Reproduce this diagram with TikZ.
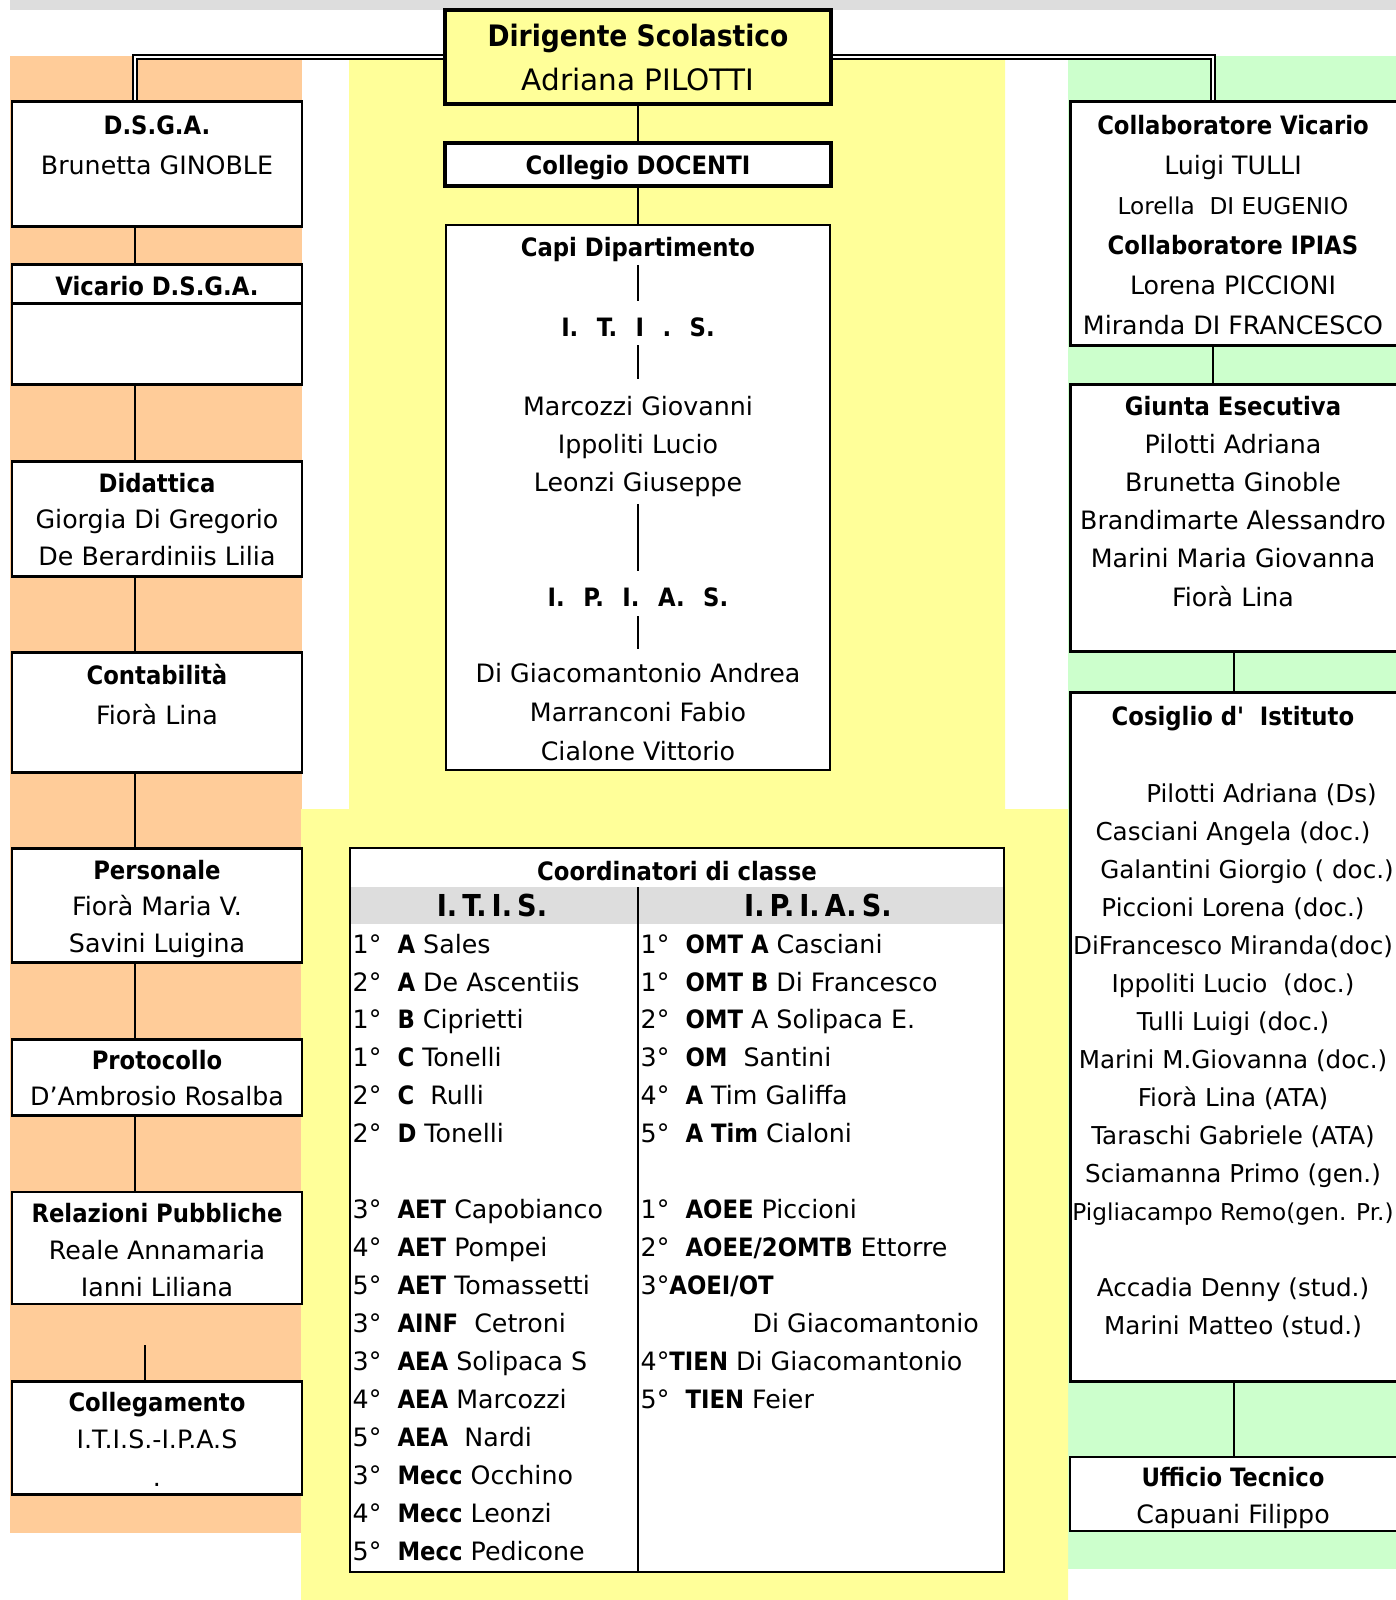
\documentclass[tikz,border=0pt]{standalone}
\usepackage{fontspec}
\setmainfont{DejaVu Sans}[BoldFont={DejaVu Sans Condensed Bold}]
\usetikzlibrary{positioning, fit, calc}

\definecolor{peach}{HTML}{FFCC99}
\definecolor{lemon}{HTML}{FFFF99}
\definecolor{mint}{HTML}{CCFFCC}
\definecolor{band}{HTML}{DDDDDD}

% stacked lines, baseline on the first one
\newcommand{\boxlines}[1]{\begin{tabular}[t]{@{}c@{}}#1\end{tabular}}
\newcommand{\tablines}[1]{\begin{tabular}[t]{@{}l@{}}#1\end{tabular}}
\newcommand{\wgap}{\hspace{3pt}}

\begin{document}
\begin{tikzpicture}[x=0.1mm, y=-0.1mm,
    box/.style={draw, line width=0.85pt, fill=white, inner sep=0pt},
    thinbox/.style={box, line width=0.5pt},
    txt/.style={font=\fontsize{7.2}{#1}\selectfont, anchor=base, inner sep=0pt},
    txt/.default=10.9,
    rowtxt/.style={font=\fontsize{7.2}{10.81}\selectfont, anchor=base west, inner sep=0pt},
    link/.style={line width=0.8pt},
    dbl/.style={double, double distance=0.8pt, line width=0.4pt},
    inlink/.style={line width=0.7pt}]

    \useasboundingbox (0,0) rectangle (1396,1600);

    % Background panels
    \fill[band] (10,0) rectangle (1396,10);
    \fill[peach] (10,56) rectangle (302,1533);
    \fill[mint] (1068,56) rectangle (1396,1569);
    \fill[lemon] (349,56) -- (1005,56) -- (1005,809) -- (1068,809) -- (1068,1600)
        -- (301,1600) -- (301,809) -- (349,809) -- cycle;

    % Spines
    \coordinate (lx) at (135,0);
    \coordinate (lstub) at (145,1345);
    \coordinate (rx1) at (1213,0);
    \coordinate (rx2) at (1234,0);

    % Centre boxes
    \node[box, fill=lemon, line width=1pt, fit={(445,10) (831,104)}] (dir) {};
    \node[box, line width=1.4pt, fit={(445,143) (831,186)}] (coll) {};
    \node[thinbox, fit={(446,225) (830,770)}] (capi) {};

    \node[txt=12.8, font=\fontsize{8.4}{12.8}\selectfont] (dirT) at (638,46) {\boxlines{\textbf{Dirigente Scolastico}\\Adriana PILOTTI}};
    \node[txt] (collT) at (638,174) {\textbf{Collegio DOCENTI}};

    % Capi Dipartimento
    \node[txt] (capiT) at (638,256) {\textbf{Capi Dipartimento}};
    \node[txt] (itisT) at (638,336) {\textbf{I.\wgap{} T.\wgap{} I\wgap{} .\wgap{} S.}};
    \node[txt=10.9] (itisN) at (638,415) {\boxlines{Marcozzi Giovanni\\Ippoliti Lucio\\Leonzi Giuseppe}};
    \node[txt] (ipiasT) at (638,606) {\textbf{I.\wgap{} P.\wgap{} I.\wgap{} A.\wgap{} S.}};
    \node[txt=11.2] (ipiasN) at (638,682) {\boxlines{Di Giacomantonio Andrea\\Marranconi Fabio\\Cialone Vittorio}};
    \draw[inlink, shorten <=0.3mm, shorten >=1.6mm] (capiT.south) -- (itisT.north);
    \draw[inlink, shorten <=0.8mm, shorten >=0.8mm] (itisT.south) -- (itisN.north);
    \draw[inlink, shorten >=1.6mm] (itisN.south) -- (ipiasT.north);
    \draw[inlink, shorten <=0.9mm, shorten >=0.5mm] (ipiasT.south) -- (ipiasN.north);

    % Coordinatori di classe
    \fill[white] (350,848) rectangle (1004,1572);
    \fill[band] (350,887) rectangle (1004,924);
    \node[box, fill=none, line width=0.7pt, fit={(350,848) (1004,1572)}] (tab) {};
    \coordinate (tabmid) at (638,887);
    \draw[line width=0.7pt] (tabmid) -- (tabmid |- tab.south);
    \node[txt] (tabT) at (677,880) {\textbf{Coordinatori di classe}};
    \node[txt, font=\fontsize{8.6}{10.9}\selectfont] (itisH) at (492,916) {\textbf{I.\,T.\,I.\,S.}};
    \node[txt, font=\fontsize{8.6}{10.9}\selectfont] (ipiasH) at (818,916) {\textbf{I.\,P.\,I.\,A.\,S.}};
    \node[rowtxt] (itisRows) at (352,953) {\tablines{%
        1°~~\textbf{A}~Sales\\
        2°~~\textbf{A} De Ascentiis\\
        1°~~\textbf{B} Ciprietti\\
        1°~~\textbf{C} Tonelli\\
        2°~~\textbf{C}~~Rulli\\
        2°~~\textbf{D} Tonelli\\[10.81pt]
        3°~~\textbf{AET} Capobianco\\
        4°~~\textbf{AET} Pompei\\
        5°~~\textbf{AET} Tomassetti\\
        3°~~\textbf{AINF}~~Cetroni\\
        3°~~\textbf{AEA} Solipaca S\\
        4°~~\textbf{AEA} Marcozzi\\
        5°~~\textbf{AEA}~~Nardi\\
        3°~~\textbf{Mecc} Occhino\\
        4°~~\textbf{Mecc} Leonzi\\
        5°~~\textbf{Mecc} Pedicone}};
    \node[rowtxt] (ipiasRows) at (640,953) {\tablines{%
        1°~~\textbf{OMT A} Casciani\\
        1°~~\textbf{OMT B} Di Francesco\\
        2°~~\textbf{OMT} A Solipaca E.\\
        3°~~\textbf{OM}~~Santini\\
        4°~~\textbf{A} Tim Galiffa\\
        5°~~\textbf{A Tim} Cialoni\\[10.81pt]
        1°~~\textbf{AOEE} Piccioni\\
        2°~~\textbf{AOEE/2OMTB} Ettorre\\
        3°\textbf{AOEI/OT}\\
        \hspace*{11.2mm}Di Giacomantonio\\
        4°\textbf{TIEN} Di Giacomantonio\\
        5°~~\textbf{TIEN} Feier}};

    % Left column
    \node[box, fit={(12,101) (302,226)}] (dsga) {};
    \node[box, fit={(12,264) (302,384)}] (vic) {};
    \node[box, fit={(12,461) (302,576)}] (did) {};
    \node[box, fit={(12,652) (302,772)}] (cont) {};
    \node[box, fit={(12,848) (302,962)}] (pers) {};
    \node[box, fit={(12,1039) (302,1115)}] (prot) {};
    \node[thinbox, fit={(12,1192) (302,1304)}] (rel) {};
    \node[box, fit={(12,1381) (302,1494)}] (colg) {};
    \coordinate (vicsep) at (0,303);
    \draw[line width=0.85pt] (vic.west |- vicsep) -- (vic.east |- vicsep);

    \node[txt=11.6] (dsgaT) at (157,134) {\boxlines{\textbf{D.S.G.A.}\\Brunetta GINOBLE}};
    \node[txt] (vicT) at (157,295) {\textbf{Vicario D.S.G.A.}};
    \node[txt=10.45] (didT) at (157,492) {\boxlines{\textbf{Didattica}\\Giorgia Di Gregorio\\De Berardiniis Lilia}};
    \node[txt=11.6] (contT) at (157,684) {\boxlines{\textbf{Contabilità}\\Fiorà Lina}};
    \node[txt=10.45] (persT) at (157,879) {\boxlines{\textbf{Personale}\\Fiorà Maria V.\\Savini Luigina}};
    \node[txt=10.45] (protT) at (157,1069) {\boxlines{\textbf{Protocollo}\\D’Ambrosio Rosalba}};
    \node[txt=10.6] (relT) at (157,1222) {\boxlines{\textbf{Relazioni Pubbliche}\\Reale Annamaria\\Ianni Liliana}};
    \node[txt=10.75] (colgT) at (157,1411) {\boxlines{\textbf{Collegamento}\\I.T.I.S.-I.P.A.S\\.}};

    % Right column
    \node[box, fit={(1070,101) (1410,345)}] (collab) {};
    \node[box, fit={(1070,384) (1410,651)}] (giunta) {};
    \node[box, fit={(1070,692) (1410,1381)}] (cons) {};
    \node[thinbox, fit={(1070,1457) (1410,1531)}] (uff) {};

    \node[txt=11.43] (collabT) at (1233,134) {\boxlines{\textbf{Collaboratore Vicario}\\Luigi TULLI\\
        {\fontsize{6.6}{11.43}\selectfont Lorella~~DI EUGENIO}\\\textbf{Collaboratore IPIAS}\\
        Lorena PICCIONI\\Miranda DI FRANCESCO}};
    \node[txt=10.87] (giuntaT) at (1233,415) {\boxlines{\textbf{Giunta Esecutiva}\\Pilotti Adriana\\Brunetta Ginoble\\
        Brandimarte Alessandro\\Marini Maria Giovanna\\Fiorà Lina}};
    \node[txt] (consT) at (1233,725) {\textbf{Cosiglio d\textquotesingle~~Istituto}};
    \node[txt=10.83, font=\fontsize{7}{10.83}\selectfont] (consN) at (1233,802) {\boxlines{%
        \hspace*{5.7mm}Pilotti Adriana (Ds)\\
        Casciani Angela (doc.)\\
        \hspace*{2.8mm}Galantini Giorgio ( doc.)\\
        Piccioni Lorena (doc.)\\
        DiFrancesco Miranda(doc)\\
        Ippoliti Lucio~~(doc.)\\
        Tulli Luigi (doc.)\\
        Marini M.Giovanna (doc.)\\
        Fiorà Lina (ATA)\\
        Taraschi Gabriele (ATA)\\
        Sciamanna Primo (gen.)\\
        {\fontsize{6.6}{10.83}\selectfont Pigliacampo Remo(gen. Pr.)}\\[10.83pt]
        Accadia Denny (stud.)\\
        Marini Matteo (stud.)}};
    \node[txt=10.7] (uffT) at (1233,1486) {\boxlines{\textbf{Ufficio Tecnico}\\Capuani Filippo}};

    % Connectors
    \draw[dbl] (dir.west) -| (dsga.north -| lx);
    \draw[dbl] (dir.east) -| (collab.north -| rx1);
    \draw[link] (dir) -- (coll);
    \draw[link] (coll) -- (capi);

    \draw[link] (dsga.south -| lx) -- (vic.north -| lx);
    \draw[link] (vic.south -| lx) -- (did.north -| lx);
    \draw[link] (did.south -| lx) -- (cont.north -| lx);
    \draw[link] (cont.south -| lx) -- (pers.north -| lx);
    \draw[link] (pers.south -| lx) -- (prot.north -| lx);
    \draw[link] (prot.south -| lx) -- (rel.north -| lx);
    \draw[link] (lstub) -- (colg.north -| lstub);

    \draw[link, line width=0.6pt] (collab.south -| rx1) -- (giunta.north -| rx1);
    \draw[link, line width=0.6pt] (giunta.south -| rx2) -- (cons.north -| rx2);
    \draw[link, line width=0.5pt] (cons.south -| rx2) -- (uff.north -| rx2);
\end{tikzpicture}
\end{document}
